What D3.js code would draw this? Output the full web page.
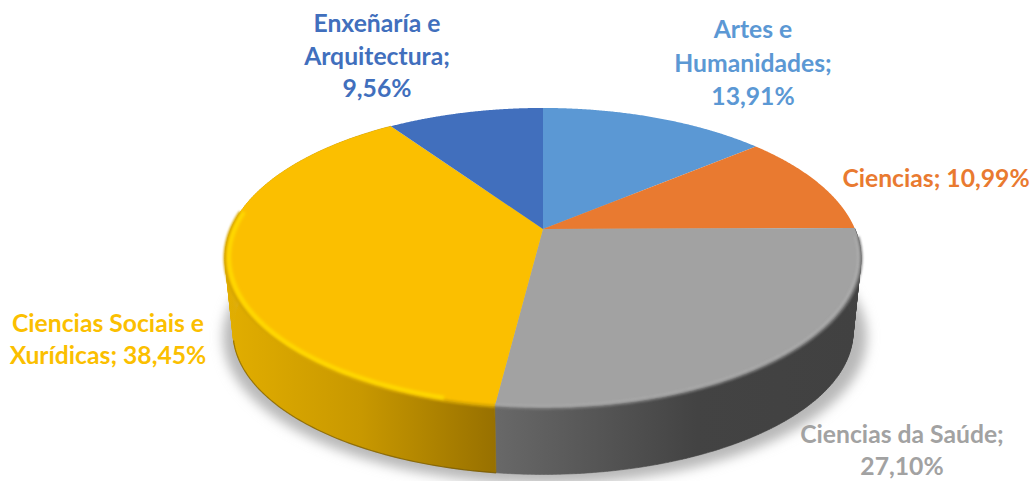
<!DOCTYPE html>
<html><head><meta charset="utf-8">
<script src="https://cdnjs.cloudflare.com/ajax/libs/d3/7.8.5/d3.min.js"></script>
<style>html,body{margin:0;padding:0;background:#fff}svg{display:block}text{font-family:Lato,"Open Sans",sans-serif;font-weight:700;font-size:24.7px;text-anchor:middle}</style>
</head><body><script>
const categories = ["Artes e Humanidades","Ciencias","Ciencias da Saúde","Ciencias Sociais e Xurídicas","Enxeñaría e Arquitectura"];
const shares = [13.91,10.99,27.10,38.45,9.56];
const shareLabels = ["13,91%","10,99%","27,10%","38,45%","9,56%"];
const colours = ["#5b98d4","#e97a30","#a2a2a2","#fbbf00","#416fbd"];
const labelLines = [["Artes e","Humanidades;","13,91%"],["Ciencias; 10,99%"],["Ciencias da Saúde;","27,10%"],["Ciencias Sociais e","Xurídicas; 38,45%"],["Enxeñaría e","Arquitectura;","9,56%"]];

const W=1032,H=481;
const svg=d3.select("body").append("svg").attr("width",W).attr("height",H);
const defs=svg.append("defs");
[["b1",1.2],["b2",1.8],["shadow",6]].forEach(([id,s])=>{
  defs.append("filter").attr("id",id).attr("x","-10%").attr("y","-10%").attr("width","120%").attr("height","120%")
    .append("feGaussianBlur").attr("stdDeviation",s);
});
function grad(id,stops,x1,x2){
  const g=defs.append("linearGradient").attr("id",id).attr("gradientUnits","userSpaceOnUse")
    .attr("x1",x1).attr("x2",x2).attr("y1",0).attr("y2",0);
  stops.forEach(([o,c])=>g.append("stop").attr("offset",o).attr("stop-color",c));
}
grad("wallY",[[0,"#e2ae00"],[.5,"#c89800"],[1,"#977000"]],225,497);
grad("wallG",[[0,"#686868"],[.55,"#434343"],[1,"#414141"]],497,860);

// perspective disc: apex at (cx,cy)
const cx=543,cy=229,A=144.4,B=312,k=-0.193;
function project(t,r=1){
  const x=r*Math.sin(t),y=-r*Math.cos(t),w=1+k*y;
  return [cx+B*x/w,cy+A*y/w];
}
// lower rim: same disc shrunk and moved down
const ex=543,ey=258;
function lower(p){return [ex+.975*(p[0]-ex),ey+.95*(p[1]-ey)+74];}
const line=d3.line();
const arcPts=(a0,a1,r=1)=>d3.range(0,161).map(i=>project(a0+(a1-a0)*i/160,r));

const arcs=d3.pie().sort(null).startAngle(0).endAngle(2*Math.PI)(shares);

// ground shadow
svg.append("ellipse").attr("cx",545).attr("cy",337).attr("rx",322).attr("ry",147)
  .attr("fill","#b8b8b8").attr("filter","url(#shadow)");

// walls: one ruled strip per slice, so the silhouette follows the tangent edge
[[2,"url(#wallG)"],[3,"url(#wallY)"]].forEach(([i,fill])=>{
  const d=arcs[i],top=arcPts(d.startAngle,d.endAngle);
  const strips=top.slice(1).map((p,j)=>line([top[j],p,lower(p),lower(top[j])])+"Z").join("");
  svg.append("path").attr("d",strips).attr("fill",fill).attr("stroke",fill).attr("stroke-width",.6);
});
// dark base line under the wall
const botY=arcPts(arcs[3].startAngle,arcs[3].endAngle).map(lower);
svg.append("path").attr("d",line(botY.slice(0,80))).attr("fill","none").attr("stroke","#6b5000").attr("stroke-width",1.2).attr("opacity",.6);

// top faces
const gTop=svg.append("g");
arcs.forEach((d,i)=>{
  gTop.append("path").attr("d",line([[cx,cy]].concat(arcPts(d.startAngle,d.endAngle)))+"Z").attr("fill",colours[i]);
});

// bevel along the front rim
const deg=Math.PI/180;
const yA0=arcs[3].startAngle,yA1=277*deg,gA0=93*deg,gA1=arcs[2].endAngle;
svg.append("path").attr("d",line(arcPts(gA0,gA1))).attr("fill","none").attr("stroke","#7c7c7c").attr("stroke-width",3).attr("filter","url(#b1)");
svg.append("path").attr("d",line(arcPts(gA0,gA1,.992))).attr("fill","none").attr("stroke","#b4b4b4").attr("stroke-width",1.5).attr("filter","url(#b1)");
svg.append("path").attr("d",line(arcPts(yA0,yA1))).attr("fill","none").attr("stroke","#d5a400").attr("stroke-width",3).attr("filter","url(#b1)");
svg.append("path").attr("d",line(arcPts(yA0+8*deg,yA1,.988))).attr("fill","none").attr("stroke","#ffda00").attr("stroke-width",4).attr("filter","url(#b2)");

// labels
const labelAnchors=[[753,38,33.5],[936,187,0],[902,443,32],[108,332,32],[377,32,32.5]];
labelLines.forEach((lines,i)=>{
  const [x,y,dy]=labelAnchors[i];
  const t=svg.append("text").attr("fill",colours[i]);
  lines.forEach((s,j)=>t.append("tspan").attr("x",x).attr("y",y+j*dy).text(s));
});
</script></body></html>
